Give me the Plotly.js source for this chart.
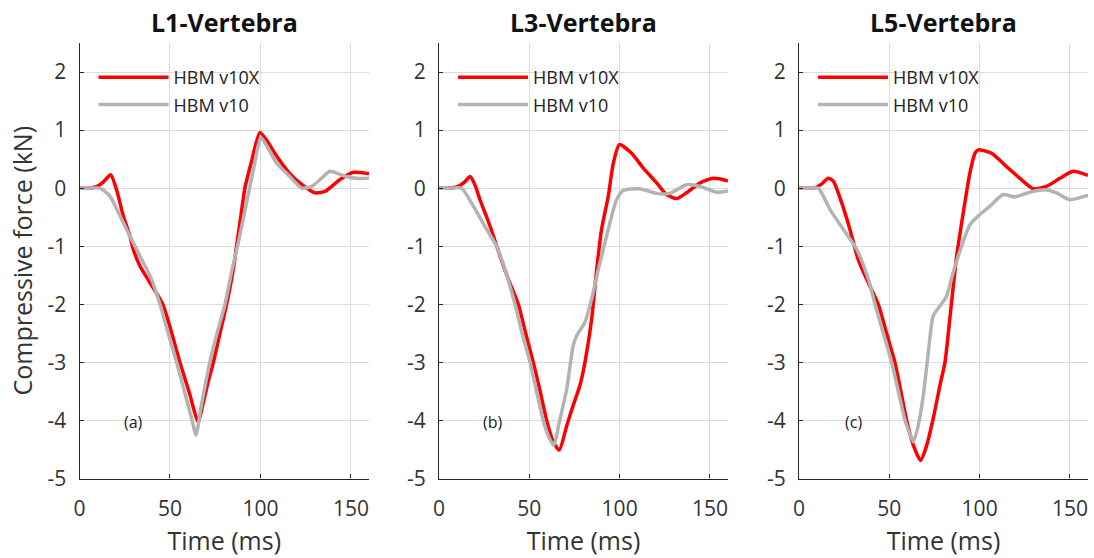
<!DOCTYPE html>
<html>
<head>
<meta charset="utf-8">
<script src="https://cdn.plot.ly/plotly-3.0.1.min.js"></script>
<style>html,body{margin:0;padding:0;background:#fff;}#chart{width:1094px;height:558px;}</style>
</head>
<body>
<div id="chart"></div>
<script>
// ---- data (time in ms, compressive force in kN) ----
const panelTitles = ["L1-Vertebra", "L3-Vertebra", "L5-Vertebra"];
const panelLabels = ["(a)", "(b)", "(c)"];
const seriesNames = ["HBM v10X", "HBM v10"];

const l1RedX = [0,5,9,13,17.2,20.5,24.2,27.9,29.7,33.4,39,46,51,55.5,60.5,65.6,68,71,74,78,81.3,85,86.8,89,91.4,95,99.7,104,109,116,123,130,136,144,151,160];
const l1RedY = [0,0,0.02,0.1,0.23,-0.03,-0.48,-0.83,-1.05,-1.34,-1.63,-2.0,-2.5,-3.0,-3.5,-4.03,-3.75,-3.35,-3.0,-2.45,-2.0,-1.4,-1.0,-0.52,0.0,0.45,0.96,0.8,0.55,0.26,0.06,-0.08,-0.05,0.15,0.27,0.25];
const l1GrayX = [0,5,11.3,16.9,22.4,27.9,30.7,33.4,39,44.5,49,53.7,58,62,64.4,67,72,76,80.4,84,88,92,96,100.3,104,109,116.3,122.8,128.3,133,138.4,143,147.6,153,160];
const l1GrayY = [0,0,0,-0.14,-0.48,-0.83,-1.0,-1.17,-1.51,-2.0,-2.5,-3.0,-3.5,-3.97,-4.25,-3.8,-3.0,-2.5,-2.0,-1.45,-0.9,-0.3,0.3,0.87,0.7,0.43,0.2,0.0,0.03,0.15,0.29,0.25,0.2,0.17,0.17];

const l3RedX = [0,5,9.8,14,17.2,20,22.7,28.2,33.8,38.4,43.9,48,52.2,56,59.6,63,66.6,70.7,74.3,78,80.8,84.5,87.3,90,93.7,96.5,99.9,106.6,113,120.5,126,131.5,137,144.4,151.8,159.2,160];
const l3RedY = [0,0,0.02,0.1,0.2,0.05,-0.2,-0.65,-1.17,-1.57,-2.0,-2.5,-3.0,-3.5,-4.0,-4.35,-4.51,-4.09,-3.74,-3.4,-3.0,-2.26,-1.4,-0.71,-0.14,0.43,0.75,0.6,0.35,0.09,-0.11,-0.18,-0.08,0.09,0.17,0.13,0.12];
const l3GrayX = [0,5,12.5,19,26.4,31.9,36,42.1,46,50.4,54,57.7,61,63.6,66.6,70.7,74.3,76.2,80.8,84.5,88.2,91,94.6,98.3,102,111.2,120.5,127.8,137,144.4,153.7,160];
const l3GrayY = [0,0,0,-0.31,-0.71,-1.0,-1.35,-2.0,-2.5,-3.0,-3.5,-4.0,-4.3,-4.43,-4.03,-3.46,-2.71,-2.54,-2.31,-1.91,-1.4,-1.05,-0.6,-0.2,-0.04,-0.01,-0.09,-0.09,0.06,0.03,-0.07,-0.05];

const l5RedX = [0,5,8.9,12.5,16.2,19,23.6,28.2,32.8,37.5,43.9,48.5,53.1,56.4,59.6,63,67.3,70.7,74.3,78,80.8,84,87.3,90.9,94.6,97.4,99.2,106.6,114.9,122.3,129.7,137,144.4,151.8,159.2,160];
const l5RedY = [0,0,0.01,0.07,0.17,0.12,-0.25,-0.71,-1.23,-1.57,-2.0,-2.5,-3.0,-3.5,-4.0,-4.4,-4.69,-4.43,-3.97,-3.4,-3.0,-2.1,-1.17,-0.43,0.26,0.6,0.66,0.6,0.37,0.17,-0.01,0.03,0.17,0.29,0.23,0.22];
const l5GrayX = [0,5,10.7,17.2,24.5,31.9,38.4,42.1,46.7,51.3,55,58.7,61,63.3,66,68.8,71.6,74.3,78,81.7,85.4,90,94.6,99.2,105.7,113,119.5,127.8,137,142.6,150,159.2,160];
const l5GrayY = [0,0,0,-0.37,-0.71,-1.05,-1.57,-2.0,-2.5,-3.0,-3.5,-4.0,-4.2,-4.37,-4.09,-3.57,-2.83,-2.2,-2.03,-1.86,-1.45,-1.0,-0.63,-0.48,-0.31,-0.11,-0.15,-0.07,-0.03,-0.08,-0.2,-0.13,-0.13];

const xTicks = [0, 50, 100, 150];
const yTicks = [-5, -4, -3, -2, -1, 0, 1, 2];

// ---- build ----
const panels = [
  {rx: l1RedX, ry: l1RedY, gx: l1GrayX, gy: l1GrayY},
  {rx: l3RedX, ry: l3RedY, gx: l3GrayX, gy: l3GrayY},
  {rx: l5RedX, ry: l5RedY, gx: l5GrayX, gy: l5GrayY}
];
const W = 1094, H = 558;
const xDomains = [[79.5/W, 369/W], [439/W, 728/W], [799/W, 1088/W]];
const yDomain = [1 - 478.5/H, 1 - 43/H];
const RED = "#ff0000", GRAY = "#b3b3b3";
const FONT = "Open Sans, Noto Sans, sans-serif";
const TXT = "#262626";

const traces = [];
const layout = {
  width: W, height: H,
  margin: {l: 0, r: 0, t: 0, b: 0},
  paper_bgcolor: "#ffffff", plot_bgcolor: "#ffffff",
  font: {family: FONT, color: TXT},
  annotations: [], shapes: []
};

panels.forEach((p, i) => {
  const n = i === 0 ? "" : String(i + 1);
  const xa = "x" + n, ya = "y" + n;
  const leg = "legend" + n;
  traces.push({
    x: p.rx, y: p.ry, xaxis: xa, yaxis: ya, type: "scatter", mode: "lines",
    name: seriesNames[0], line: {color: RED, width: 3.5, shape: "spline", smoothing: 0.6},
    legend: leg, legendgroup: "a" + i, hoverinfo: "x+y"
  });
  traces.push({
    x: p.gx, y: p.gy, xaxis: xa, yaxis: ya, type: "scatter", mode: "lines",
    name: seriesNames[1], line: {color: GRAY, width: 3.5, shape: "spline", smoothing: 0.6},
    legend: leg, legendgroup: "b" + i, hoverinfo: "x+y"
  });
  layout["xaxis" + n] = {
    domain: xDomains[i], range: [0, 160], anchor: ya,
    tickvals: xTicks, ticktext: xTicks.map(String),
    showgrid: true, gridcolor: "#dcdcdc", gridwidth: 1, zeroline: false,
    showline: true, linecolor: TXT, linewidth: 1.3,
    ticks: "inside", ticklen: 4, tickcolor: TXT,
    tickfont: {family: FONT, size: 21, color: "#333333"},
    ticklabelstandoff: 11,
    title: {text: "Time (ms)", font: {family: FONT, size: 25, color: "#333333"}, standoff: 11},
    fixedrange: true
  };
  layout["yaxis" + n] = {
    domain: yDomain, range: [-5, 2.5], anchor: xa,
    tickvals: yTicks, ticktext: yTicks.map(String),
    showgrid: true, gridcolor: "#dcdcdc", gridwidth: 1, zeroline: false,
    showline: true, linecolor: TXT, linewidth: 1.3,
    ticks: "inside", ticklen: 4, tickcolor: TXT,
    tickfont: {family: FONT, size: 21, color: "#333333"},
    ticklabelstandoff: 8,
    fixedrange: true
  };
  if (i === 0) {
    layout["yaxis" + n].title = {text: "Compressive force (kN)", font: {family: FONT, size: 25, color: "#333333"}, standoff: 7};
  }
  layout[leg] = {
    x: (xDomains[i][0] * W + 14) / W, y: 1 - 59/H, xref: "paper", yref: "paper",
    xanchor: "left", yanchor: "top",
    bgcolor: "rgba(255,255,255,0)", borderwidth: 0,
    font: {family: FONT, size: 18, color: "#222222"},
    itemwidth: 70, tracegroupgap: 1
  };
  layout.annotations.push({
    text: "<b>" + panelTitles[i] + "</b>", xref: xa + " domain", yref: "paper",
    x: 0.5, y: 1 - 22/H, xanchor: "center", yanchor: "middle", showarrow: false,
    font: {family: FONT, size: 25, color: "#111111"}
  });
  layout.annotations.push({
    text: panelLabels[i], xref: xa, yref: ya, x: 30, y: -4.02,
    xanchor: "center", yanchor: "middle", showarrow: false,
    font: {family: FONT, size: 16, color: "#222222"}
  });
});

Plotly.newPlot("chart", traces, layout, {displayModeBar: false});
</script>
</body>
</html>
